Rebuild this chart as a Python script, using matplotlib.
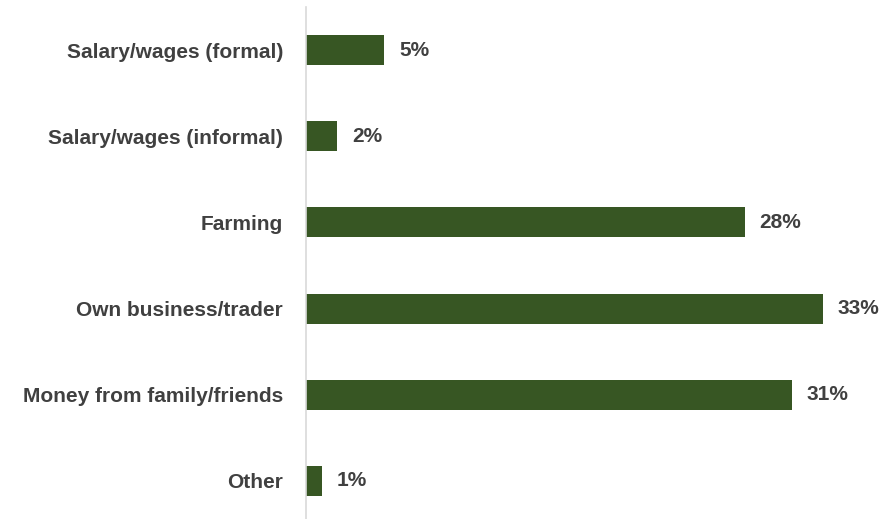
import matplotlib
matplotlib.use("Agg")
import matplotlib.pyplot as plt

categories = [
    "Salary/wages (formal)",
    "Salary/wages (informal)",
    "Farming",
    "Own business/trader",
    "Money from family/friends",
    "Other",
]
shares = [5, 2, 28, 33, 31, 1]

bar_color = "#375623"
text_color = "#404040"

plt.rcParams["font.family"] = ["Liberation Sans", "DejaVu Sans"]
plt.rcParams["font.weight"] = "bold"

fig = plt.figure(figsize=(8.84, 5.19), dpi=100)
ax = fig.add_axes([306 / 884, -5 / 519, 564 / 884, 517 / 519])

pos = list(range(len(categories)))
bars = ax.barh(pos, shares, height=0.35, color=bar_color)
ax.set_ylim(len(categories) - 0.5, -0.5)
ax.set_xlim(0, 36)

for b, v in zip(bars, shares):
    ax.text(b.get_width() + 0.95, b.get_y() + b.get_height() / 2, f"{v}%",
            va="center", ha="left", fontsize=15, fontweight="bold", color=text_color)

ax.set_yticks(pos)
ax.set_yticklabels(categories, fontsize=15, fontweight="bold", color=text_color)
ax.tick_params(axis="y", length=0, pad=16.5)
ax.set_xticks([])
for side in ["top", "right", "bottom"]:
    ax.spines[side].set_visible(False)
ax.spines["left"].set_color("#d9d9d9")
ax.spines["left"].set_linewidth(1.2)

fig.savefig("out.png", dpi=100)
